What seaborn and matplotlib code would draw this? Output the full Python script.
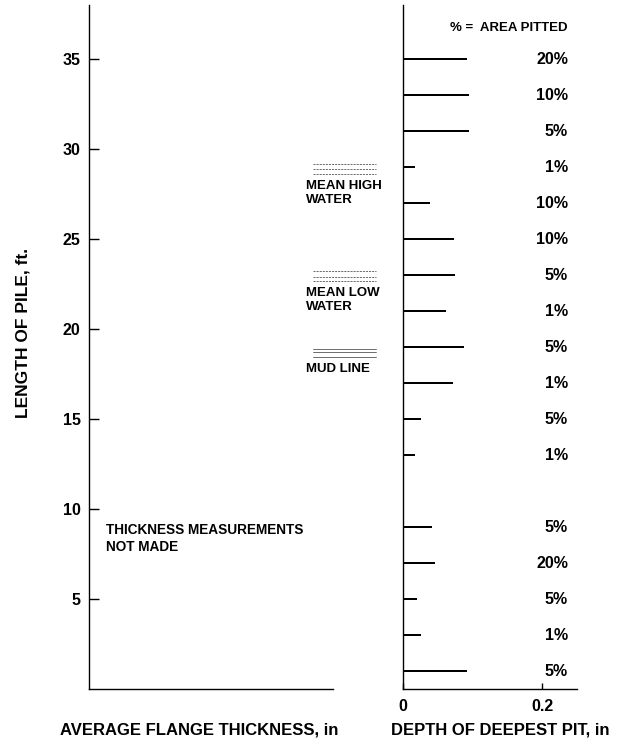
import matplotlib
matplotlib.use("Agg")
import matplotlib.pyplot as plt
import matplotlib.transforms as mtransforms
import seaborn as sns
import pandas as pd

# Pile length stations (ft) and deepest pit depth (in) with the percent area pitted
length_ft = [35, 33, 31, 29, 27, 25, 23, 21, 19, 17, 15, 13, 9, 7, 5, 3, 1]
pit_depth_in = [0.092, 0.095, 0.095, 0.017, 0.039, 0.073, 0.075, 0.062, 0.088,
                0.072, 0.026, 0.017, 0.042, 0.046, 0.020, 0.026, 0.092]
area_pitted = ["20%", "10%", "5%", "1%", "10%", "10%", "5%", "1%", "5%",
               "1%", "5%", "1%", "5%", "20%", "5%", "1%", "5%"]

length_ticks = [5, 10, 15, 20, 25, 30, 35]
depth_ticks = [0, 0.2]
depth_tick_labels = ["0", "0.2"]

# Reference levels along the pile (label, line heights in ft, label top in ft)
levels = [
    ("MEAN HIGH\nWATER", [29.17, 28.9, 28.6], 28.3, "dash"),
    ("MEAN LOW\nWATER", [23.2, 22.9, 22.65], 22.35, "dash"),
    ("MUD LINE", [18.9, 18.7, 18.45], 18.1, "solid"),
]

sns.set_theme(style="white")
plt.rcParams["font.family"] = ["Liberation Sans", "DejaVu Sans"]
plt.rcParams["font.weight"] = "bold"
for key in ("text.color", "axes.labelcolor", "xtick.color", "ytick.color"):
    plt.rcParams[key] = "black"

df = pd.DataFrame({"length": length_ft, "depth": pit_depth_in, "pct": area_pitted})

fig = plt.figure(figsize=(6.17, 7.40), dpi=100)
ax_l = fig.add_axes([89 / 617, 51 / 740, 244 / 617, 684 / 740])
ax_r = fig.add_axes([403 / 617, 51 / 740, 174 / 617, 684 / 740])

for ax in (ax_l, ax_r):
    ax.set_ylim(0, 38)
    for s in ("top", "right"):
        ax.spines[s].set_visible(False)
    for s in ("left", "bottom"):
        ax.spines[s].set_color("black")
        ax.spines[s].set_linewidth(1.0)

# Left panel: flange thickness (no data)
ax_l.set_xlim(0, 1)
ax_l.set_xticks([])
ax_l.set_yticks(length_ticks)
ax_l.set_yticklabels([str(t) for t in length_ticks], fontsize=11.5, fontweight="bold")
ax_l.tick_params(axis="y", direction="in", length=7, width=1, color="black", pad=6, left=True)
ax_l.set_ylabel("LENGTH OF PILE, ft.", fontsize=12.5, fontweight="bold")
ax_l.yaxis.set_label_coords(-0.27, 0.52)
ax_l.yaxis.label.set_va("center")
ax_l.set_xlabel("AVERAGE FLANGE THICKNESS, in", fontsize=12, fontweight="bold")
ax_l.xaxis.set_label_coords(0.451, -0.060)
ax_l.xaxis.label.set_va("center")

tr = mtransforms.blended_transform_factory(ax_l.transAxes, ax_l.transData)
ax_l.text(0.07, 9.2, "THICKNESS MEASUREMENTS\nNOT MADE", fontsize=9.8, fontweight="bold",
          ha="left", va="top", linespacing=1.2, transform=tr)

for label, ys, ylab, style in levels:
    for y in ys:
        ls = (0, (2.5, 1.2)) if style == "dash" else "-"
        ax_l.plot([0.918, 1.176], [y, y], transform=tr, color="#555555", lw=0.6,
                  linestyle=ls, clip_on=False)
    ax_l.text(0.889, ylab, label, transform=tr, fontsize=9.5, fontweight="bold",
              ha="left", va="top", linespacing=1.3, clip_on=False)

# Right panel: depth of deepest pit
sns.barplot(data=df, x="depth", y="length", orient="h", native_scale=True,
            color="black", width=0.07, linewidth=0, saturation=1, ax=ax_r)
ax_r.set_ylim(0, 38)
ax_r.set_xlim(0, 0.25)
ax_r.set_yticks([])
ax_r.set_ylabel("")
ax_r.set_xticks(depth_ticks)
ax_r.set_xticklabels(depth_tick_labels, fontsize=11.5, fontweight="bold")
ax_r.tick_params(axis="x", direction="in", length=4, width=1, color="black", pad=7, bottom=True)
ax_r.set_xlabel("DEPTH OF DEEPEST PIT, in", fontsize=12, fontweight="bold")
ax_r.xaxis.set_label_coords(0.557, -0.060)
ax_r.xaxis.label.set_va("center")

for y, p in zip(length_ft, area_pitted):
    ax_r.text(0.237, y, p, fontsize=11.5, fontweight="bold", ha="right", va="center")

ax_r.text(0.237, 36.7, "% =  AREA PITTED", fontsize=9.5, fontweight="bold",
          ha="right", va="center")

fig.savefig("out.png", dpi=100, facecolor="white")
